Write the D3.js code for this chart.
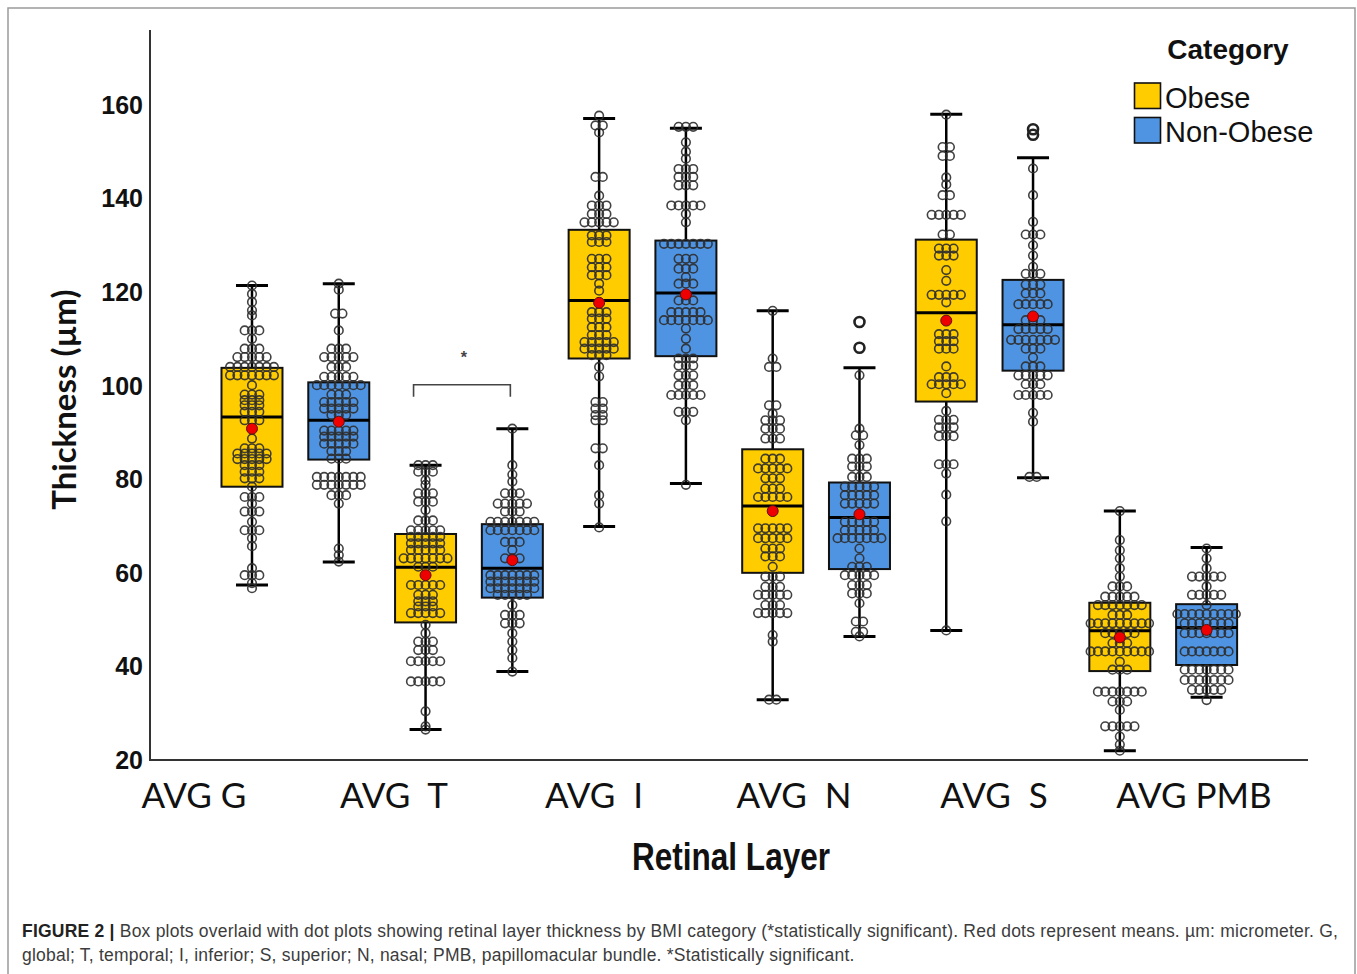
<!DOCTYPE html>
<html>
<head>
<meta charset="utf-8">
<script src="https://cdn.jsdelivr.net/npm/d3@7"></script>
<style>
  html, body { margin: 0; padding: 0; background: #fff; }
  svg { display: block; }
</style>
</head>
<body>
<div id="chart"></div>
<script>
// Retinal layer thickness by BMI category: box plots with dot plots on top

const layers = ['AVG G', 'AVG  T', 'AVG  I', 'AVG  N', 'AVG  S', 'AVG PMB'];
const groups = ['Obese', 'Non-Obese'];
const yTicks = [20, 40, 60, 80, 100, 120, 140, 160];

// [whisker low, Q1, median, Q3, whisker high] per layer
const obeseBox = [
  [57.4, 78.4, 93.3, 103.8, 121.4],
  [26.5, 49.4, 61.2, 68.3, 83.0],
  [69.9, 105.8, 118.2, 133.3, 157.1],
  [32.9, 60.0, 74.3, 86.4, 116.0],
  [47.7, 96.6, 115.6, 131.2, 158.0],
  [22.0, 39.0, 47.6, 53.6, 73.2]
];
const nonObeseBox = [
  [62.3, 84.2, 92.6, 100.7, 121.8],
  [38.9, 54.7, 61.0, 70.4, 90.8],
  [79.1, 106.3, 119.8, 131.0, 155.0],
  [46.4, 60.8, 71.8, 79.3, 103.8],
  [80.3, 103.2, 113.0, 122.6, 148.7],
  [33.4, 40.3, 48.3, 53.3, 65.4]
];
const obeseMean = [90.8, 59.5, 117.7, 73.2, 113.9, 46.2];
const nonObeseMean = [92.3, 62.7, 119.5, 72.5, 114.8, 47.8];
const nonObeseOutliers = [[], [], [], [113.6, 108.1], [154.8, 153.6], []];

// dot plot rows: [thickness, number of dots in the row]
const dotsObeseG = [[121.4,1],[119.6,1],[117.9,1],[116.1,1],[115,1],[111.8,3],[110,1],[107.9,3],[106.1,5],[104,7],[102.2,7],[100.1,1],[98.1,3],[96.9,3],[95.8,3],[94.4,3],[92.6,3],[88.7,1],[86.6,3],[85.5,5],[84.3,5],[83,3],[81.6,3],[80.2,3],[78.4,1],[76.2,3],[74.8,1],[73.1,3],[70.9,1],[69.1,3],[67.4,1],[65.7,1],[61,1],[59.5,3],[57.8,1],[56.7,1]];
const dotsNonObeseG = [[121.8,1],[120.5,1],[115.4,2],[111.8,1],[107.9,3],[106.1,5],[104,3],[101.9,5],[100.1,7],[98.1,3],[96.5,5],[95.1,5],[93.7,3],[90.4,5],[89.1,5],[87.6,5],[86,3],[84.4,3],[80.5,7],[78.8,7],[76.6,3],[74.8,1],[65.2,1],[63.8,1],[62.4,1]];
const dotsObeseT = [[83,3],[81.6,3],[79.8,1],[78.8,1],[77,3],[75.2,3],[73.4,1],[71.2,3],[69.1,5],[67.7,5],[66.3,5],[64.9,5],[63.1,7],[61.3,3],[57.4,5],[55.3,3],[53.9,3],[52.8,3],[51.4,5],[48.9,1],[47.1,1],[45.3,3],[43.5,3],[41.1,5],[36.8,5],[30.4,1],[27.2,1],[26.5,1]];
const dotsNonObeseT = [[90.8,1],[83,1],[81,1],[79.5,1],[77,3],[74.8,5],[73.1,3],[70.9,7],[69.1,7],[66.6,3],[64.9,1],[63.1,3],[59.5,7],[58.1,7],[56.7,7],[55.3,5],[53.1,1],[51,3],[49.2,3],[47.1,1],[45.3,1],[43.5,1],[41.8,1],[38.9,1]];
const dotsObeseI = [[157.7,1],[155.6,2],[154.1,1],[144.6,2],[140.6,1],[138.5,3],[136.7,3],[134.9,5],[132.1,3],[130.7,3],[127.1,3],[125.3,3],[123.6,3],[121.8,1],[120.3,1],[115.7,3],[114.3,3],[112.5,3],[110.8,3],[109.3,5],[107.9,5],[106.5,3],[104,1],[102,1],[96.5,2],[95.1,2],[93.7,2],[92.6,2],[86.6,2],[83,1],[76.6,1],[74.8,1],[69.7,1]];
const dotsNonObeseI = [[155.3,3],[152,1],[150,1],[148.5,1],[146.3,3],[144.6,3],[142.8,3],[138.5,5],[136.7,1],[134.9,1],[130.3,7],[127.1,3],[125,3],[123.2,1],[121.8,3],[118.2,3],[115.7,5],[114,7],[112.2,1],[110,1],[107.9,1],[105.8,3],[104.3,3],[102.2,3],[100.1,3],[98,5],[94.4,3],[92.6,1],[78.8,1]];
const dotsObeseN = [[116,1],[105.8,1],[104,2],[95.8,2],[94,1],[92.6,3],[90.8,3],[88.7,3],[84.4,3],[82.3,5],[80.2,3],[78,3],[76.2,5],[69.5,5],[67.4,5],[65.2,3],[63.5,3],[61.3,1],[59.2,3],[57,3],[55.3,5],[53.1,3],[51.4,5],[46.7,1],[45.3,1],[32.9,2]];
const dotsNonObeseN = [[102.2,1],[90.8,1],[89.4,2],[87.3,1],[84.4,3],[82.7,3],[80.5,3],[78.4,5],[76.6,5],[74.8,5],[70.9,5],[69.1,5],[67.4,7],[65.2,1],[63.1,1],[61.3,3],[59.5,5],[57.4,3],[55.6,3],[53.5,1],[49.6,2],[47.4,2],[46.4,1]];
const dotsObeseS = [[157.9,1],[151,2],[149.1,2],[144.5,1],[143,1],[140.7,2],[136.5,5],[132.3,2],[129.3,3],[127.8,3],[124.7,1],[122.4,1],[119.4,5],[117.8,1],[111,3],[109.5,3],[107.9,3],[104.1,1],[101.8,3],[100.3,5],[98.4,1],[94.6,1],[92.7,3],[91.1,3],[89.2,3],[83.2,3],[81.2,1],[76.7,1],[71,1],[47.7,1]];
const dotsNonObeseS = [[146.4,1],[140.7,1],[135,1],[132.3,3],[130,1],[127.8,1],[125.4,1],[123.9,3],[121.6,3],[119.7,3],[117.4,5],[114,3],[112.1,5],[109.8,7],[107.9,3],[106,1],[104.1,3],[102.2,5],[100.3,3],[98,5],[94.2,1],[92.3,1],[80.5,2]];
const dotsObesePMB = [[73.2,1],[67,1],[64.8,1],[63.1,1],[61,1],[59.2,1],[57.1,3],[54.9,5],[53.1,7],[51,3],[49.2,9],[47.1,5],[45,3],[43.2,9],[41,1],[39.3,3],[34.6,7],[32.5,3],[30.7,1],[27.2,5],[25,1],[23.3,1],[22,1]];
const dotsNonObesePMB = [[65.2,1],[63.1,1],[61,1],[59.2,5],[57.1,1],[55.3,5],[53.1,1],[51.2,9],[49.2,7],[47.1,7],[43.2,7],[39.3,7],[37.1,7],[35,5],[32.8,1]];

const obeseDots = [dotsObeseG, dotsObeseT, dotsObeseI, dotsObeseN, dotsObeseS, dotsObesePMB];
const nonObeseDots = [dotsNonObeseG, dotsNonObeseT, dotsNonObeseI, dotsNonObeseN, dotsNonObeseS, dotsNonObesePMB];

const W = 1357, H = 974;
const colors = { 'Obese': '#ffcc00', 'Non-Obese': '#4f94e2' };

const svg = d3.select('#chart').append('svg')
  .attr('width', W).attr('height', H)
  .attr('xmlns', 'http://www.w3.org/2000/svg');

svg.append('rect').attr('width', W).attr('height', H).attr('fill', '#fff');
// figure frame
svg.append('rect')
  .attr('x', 8).attr('y', 8).attr('width', 1347).attr('height', 980)
  .attr('fill', 'none').attr('stroke', '#9a9a9a').attr('stroke-width', 1.5);

const y = d3.scaleLinear().domain([20, 176]).range([760, 30]);
const x0 = d3.scaleBand().domain(layers).range([208.6, 1250]);
const x1 = d3.scaleBand().domain(groups).range([0, x0.bandwidth()]);
const xLabel = d3.scalePoint().domain(layers).range([194, 1194]);
const boxW = 61, capW = 32, dotR = 4.3, dotGap = 7.3;

// axes (L-shaped frame, no tick marks)
const axisLeft = 150, axisRight = 1308;
svg.append('path')
  .attr('d', `M${axisLeft},${y(176)}V${y(20)}H${axisRight}`)
  .attr('fill', 'none').attr('stroke', '#333').attr('stroke-width', 2);

svg.append('g').selectAll('text')
  .data(yTicks).enter().append('text')
  .attr('x', 143).attr('y', d => y(d)).attr('dy', '0.36em')
  .attr('text-anchor', 'end')
  .attr('font-family', 'Liberation Sans, Arial, sans-serif')
  .attr('font-weight', 'bold').attr('font-size', 25).attr('fill', '#111')
  .text(d => d);

svg.append('text')
  .attr('transform', `translate(76, ${y(97)}) rotate(-90)`)
  .attr('text-anchor', 'middle')
  .attr('font-family', 'Lato, sans-serif').attr('font-weight', 'bold')
  .attr('font-size', 33).attr('fill', '#111')
  .text('Thickness (µm)');

svg.append('g').selectAll('text')
  .data(layers).enter().append('text')
  .attr('x', d => xLabel(d)).attr('y', 808)
  .attr('text-anchor', 'middle')
  .style('white-space', 'pre')
  .attr('font-family', 'Lato, sans-serif').attr('font-size', 35).attr('fill', '#111')
  .text(d => d);

svg.append('text')
  .attr('x', 632).attr('y', 870)
  .attr('textLength', 198).attr('lengthAdjust', 'spacingAndGlyphs')
  .attr('font-family', 'Liberation Sans, Arial, sans-serif').attr('font-weight', 'bold')
  .attr('font-size', 38).attr('fill', '#111')
  .text('Retinal Layer');

// boxes
function drawGroup(g, stats, means, dotSets, outliers) {
  layers.forEach((layer, i) => {
    const cx = x0(layer) + x1(g) + x1.bandwidth() / 2;
    const [lo, q1, med, q3, hi] = stats[i];
    const gg = svg.append('g');
    // whiskers
    gg.append('line').attr('x1', cx).attr('x2', cx).attr('y1', y(hi)).attr('y2', y(q3))
      .attr('stroke', '#000').attr('stroke-width', 2.5);
    gg.append('line').attr('x1', cx).attr('x2', cx).attr('y1', y(q1)).attr('y2', y(lo))
      .attr('stroke', '#000').attr('stroke-width', 2.5);
    [lo, hi].forEach(v => {
      gg.append('line').attr('x1', cx - capW / 2).attr('x2', cx + capW / 2)
        .attr('y1', y(v)).attr('y2', y(v))
        .attr('stroke', '#000').attr('stroke-width', 3);
    });
    gg.append('rect')
      .attr('x', cx - boxW / 2).attr('y', y(q3))
      .attr('width', boxW).attr('height', y(q1) - y(q3))
      .attr('fill', colors[g]).attr('stroke', '#111').attr('stroke-width', 2);
    gg.append('line').attr('x1', cx - boxW / 2).attr('x2', cx + boxW / 2)
      .attr('y1', y(med)).attr('y2', y(med))
      .attr('stroke', '#000').attr('stroke-width', 3);

    // dot plot
    const pts = [];
    dotSets[i].forEach(([v, n]) => {
      for (let k = 0; k < n; k++) pts.push({ v, dx: (k - (n - 1) / 2) * dotGap });
    });
    gg.selectAll('circle.dot').data(pts).enter().append('circle')
      .attr('class', 'dot')
      .attr('cx', d => cx + d.dx).attr('cy', d => y(d.v)).attr('r', dotR)
      .attr('fill', 'none').attr('stroke', '#2e2e2e').attr('stroke-width', 1.6)
      .attr('stroke-opacity', 0.9);

    (outliers ? outliers[i] : []).forEach(v => {
      gg.append('circle').attr('cx', cx).attr('cy', y(v)).attr('r', 5)
        .attr('fill', 'none').attr('stroke', '#222').attr('stroke-width', 2.6);
    });

    gg.append('circle').attr('cx', cx).attr('cy', y(means[i])).attr('r', 5.5)
      .attr('fill', '#ee0000').attr('stroke', '#5a1010').attr('stroke-width', 1);
  });
}
drawGroup('Obese', obeseBox, obeseMean, obeseDots, null);
drawGroup('Non-Obese', nonObeseBox, nonObeseMean, nonObeseDots, nonObeseOutliers);

// significance bracket over AVG T
const tL = x0(layers[1]) + x1('Obese') + x1.bandwidth() / 2 - 12;
const tR = x0(layers[1]) + x1('Non-Obese') + x1.bandwidth() / 2 - 2;
svg.append('path')
  .attr('d', `M${tL},${y(97.6)}V${y(100.2)}H${tR}V${y(97.6)}`)
  .attr('fill', 'none').attr('stroke', '#444').attr('stroke-width', 1.6);
svg.append('text')
  .attr('x', (tL + tR) / 2 + 2).attr('y', y(104.8))
  .attr('text-anchor', 'middle')
  .attr('font-family', 'Liberation Sans, Arial, sans-serif').attr('font-weight', 'bold')
  .attr('font-size', 16).attr('fill', '#444')
  .text('*');

// legend
const lg = svg.append('g');
lg.append('text').attr('x', 1228).attr('y', 59).attr('text-anchor', 'middle')
  .attr('font-family', 'Liberation Sans, Arial, sans-serif').attr('font-weight', 'bold')
  .attr('font-size', 28).attr('fill', '#111').text('Category');
groups.forEach((g, i) => {
  lg.append('rect').attr('x', 1134.5).attr('y', 83 + i * 34.5).attr('width', 26).attr('height', 25.5)
    .attr('fill', colors[g]).attr('stroke', '#111').attr('stroke-width', 1.6);
  lg.append('text').attr('x', 1165).attr('y', 107.5 + i * 34.5)
    .attr('font-family', 'Liberation Sans, Arial, sans-serif')
    .attr('font-size', 29).attr('fill', '#111').text(g);
});

// caption
const cap = svg.append('g')
  .attr('font-family', 'Liberation Sans, Arial, sans-serif').attr('font-size', 17.5)
  .attr('letter-spacing', 0.22).attr('fill', '#3c3c3c');
const l1 = cap.append('text').attr('x', 22).attr('y', 937);
l1.append('tspan').attr('font-weight', 'bold').attr('fill', '#222').text('FIGURE 2 | ');
l1.append('tspan').text('Box plots overlaid with dot plots showing retinal layer thickness by BMI category (*statistically significant). Red dots represent means. µm: micrometer. G,');
cap.append('text').attr('x', 22).attr('y', 961)
  .text('global; T, temporal; I, inferior; S, superior; N, nasal; PMB, papillomacular bundle. *Statistically significant.');
</script>
</body>
</html>
